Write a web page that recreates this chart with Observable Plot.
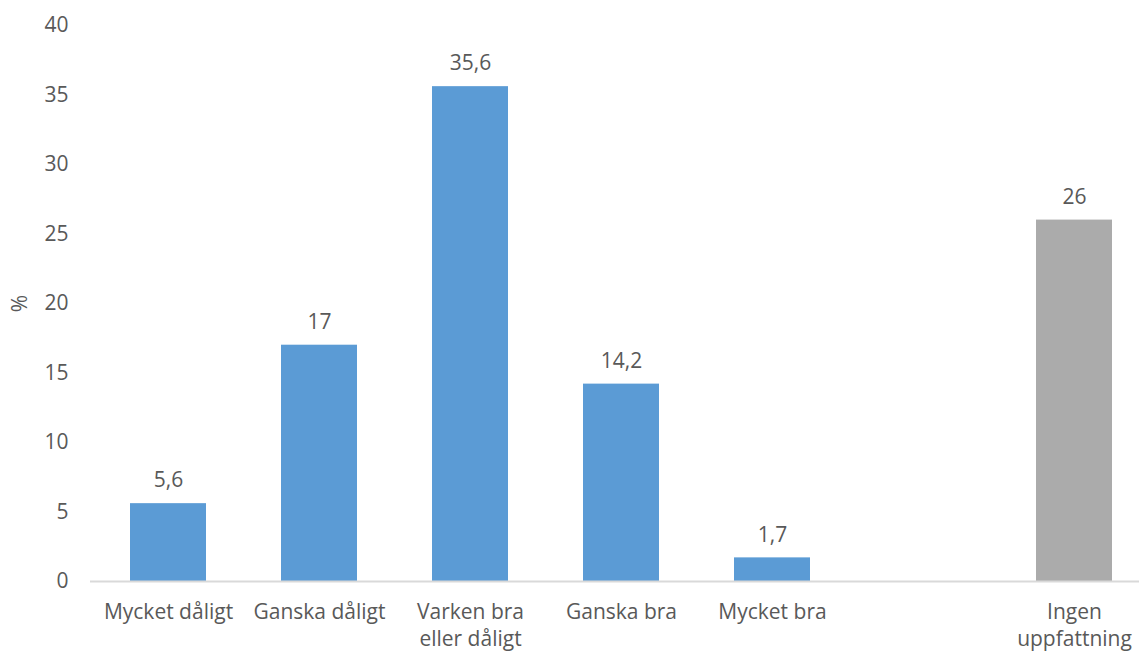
<!DOCTYPE html>
<html>
<head>
<meta charset="utf-8">
<script src="https://cdn.jsdelivr.net/npm/d3@7"></script>
<script src="https://cdn.jsdelivr.net/npm/@observablehq/plot@0.6"></script>
<style>
  html, body { margin: 0; padding: 0; background: #fff; }
  #chart svg { display: block; }
</style>
</head>
<body>
<div id="chart"></div>
<script>
const categories = ["Mycket dåligt", "Ganska dåligt", "Varken bra eller dåligt", "Ganska bra", "Mycket bra", "Ingen uppfattning"];
const values = [5.6, 17, 35.6, 14.2, 1.7, 26];
const groups = ["rating", "rating", "rating", "rating", "rating", "none"];
const tickLabels = ["Mycket dåligt", "Ganska dåligt", "Varken bra\neller dåligt", "Ganska bra", "Mycket bra", "Ingen\nuppfattning"];
const yTicks = [0, 5, 10, 15, 20, 25, 30, 35, 40];

const gap = " ";
const domain = [...categories.slice(0, 5), gap, categories[5]];
const labelOf = new Map(categories.map((c, i) => [c, tickLabels[i]]));
const data = categories.map((c, i) => ({category: c, value: values[i], group: groups[i]}));
const fmt = v => String(v).replace(".", ",");

const textColor = "#595959";
const chart = Plot.plot({
  width: 1139,
  height: 651,
  marginLeft: 90,
  marginRight: 0,
  marginTop: 25,
  marginBottom: 70,
  style: {fontFamily: "'Open Sans', Lato, sans-serif", fontSize: "21px", color: textColor, background: "#fff"},
  x: {domain, range: [90, 1150.5], paddingInner: 0.5, paddingOuter: 0.25, label: null},
  y: {domain: [0, 40], label: null},
  color: {domain: ["rating", "none"], range: ["#5B9BD5", "#ABABAB"]},
  marks: [
    Plot.barY(data, {x: "category", y: "value", fill: "group"}),
    Plot.ruleY([0], {stroke: "#D9D9D9", strokeWidth: 2}),
    Plot.text(data, {x: "category", y: "value", text: d => fmt(d.value), dy: -23, fill: textColor, fontSize: 21}),
    Plot.axisY({ticks: yTicks, tickSize: 0, tickPadding: 22, fontSize: 21, label: "%", labelAnchor: "center", labelArrow: "none", labelOffset: 78, color: textColor}),
    Plot.axisX({tickSize: 0, tickPadding: 18, fontSize: 21, lineHeight: 1.3, tickFormat: d => labelOf.get(d) ?? "", color: textColor})
  ]
});
document.getElementById("chart").appendChild(chart);
</script>
</body>
</html>
